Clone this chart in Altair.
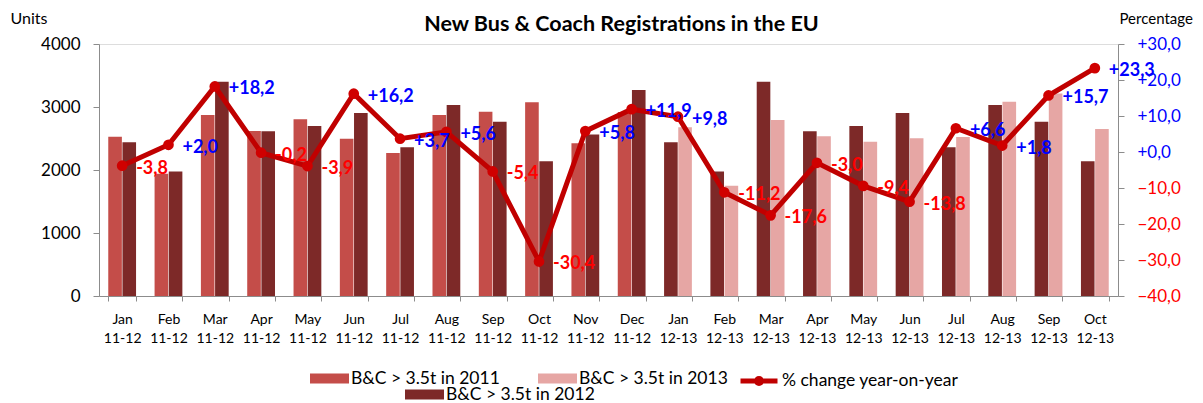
import altair as alt
import pandas as pd

months = ["Jan", "Feb", "Mar", "Apr", "May", "Jun", "Jul", "Aug", "Sep", "Oct", "Nov", "Dec"]
units_2011 = [2529, 1940, 2873, 2620, 2804, 2497, 2270, 2873, 2926, 3075, 2423, 2920]
units_2012 = [2440, 1975, 3400, 2615, 2700, 2905, 2360, 3032, 2767, 2140, 2565, 3268]
units_2013 = [2680, 1750, 2795, 2535, 2450, 2503, 2525, 3085, 3215, 2650]
pct_change = [-3.8, 2.0, 18.2, -0.2, -3.9, 16.2, 3.7, 5.6, -5.4, -30.4, 5.8, 11.9,
              9.8, -11.2, -17.6, -3.0, -9.4, -13.8, 6.6, 1.8, 15.7, 23.3]

s2011 = "B&C > 3.5t in 2011"
s2012 = "B&C > 3.5t in 2012"
s2013 = "B&C > 3.5t in 2013"
line_name = "% change year-on-year"

cats = [f"{m} 11-12" for m in months] + [f"{m} 12-13" for m in months[:10]]

rows = []
for i, m in enumerate(months):
    c = f"{m} 11-12"
    rows.append({"cat": c, "slot": 0, "series": s2011, "units": units_2011[i]})
    rows.append({"cat": c, "slot": 1, "series": s2012, "units": units_2012[i]})
for i, m in enumerate(months[:10]):
    c = f"{m} 12-13"
    rows.append({"cat": c, "slot": 0, "series": s2012, "units": units_2012[i]})
    rows.append({"cat": c, "slot": 1, "series": s2013, "units": units_2013[i]})
bar_df = pd.DataFrame(rows)
bar_a = bar_df[bar_df["series"] != s2012]
bar_b = bar_df[bar_df["series"] == s2012]


def fmt(v):
    return f"{v:+.1f}".replace(".", ",")


pct_df = pd.DataFrame({
    "cat": cats,
    "pct": pct_change,
    "label": [fmt(v) for v in pct_change],
    "name": [line_name] * len(cats),
})

FONT = "Lato"
GRAY = "#8c8c8c"
C2011, C2012, C2013 = "#C44D49", "#7D2928", "#E6A6A4"
RECT = "M-1,-0.26H1V0.26H-1Z"

x_axis = alt.Axis(
    title=None, labelExpr="datum.value ? split(datum.value, ' ') : ''", labelAngle=0,
    tickBand="extent", domainColor=GRAY, tickColor=GRAY, labelFontSize=14, labelLineHeight=19,
    labelPadding=11, tickSize=5, labelColor="black", labelFont=FONT,
)
x_enc = alt.X("cat:N", sort=cats, scale=alt.Scale(paddingInner=0.4, paddingOuter=0.2), axis=x_axis)
xo_enc = alt.XOffset("slot:O", scale=alt.Scale(paddingInner=0.04))

y_units = alt.Y("units:Q", scale=alt.Scale(domain=[0, 4000]),
                axis=alt.Axis(values=[0, 1000, 2000, 3000, 4000], format="d", grid=False,
                              title="Units", titleAngle=0, titleX=-89, titleY=-26,
                              titleAlign="left", titleBaseline="middle", titleFontWeight="normal",
                              titleFontSize=16, titleFont=FONT, labelFont=FONT, labelFontSize=17,
                              labelColor="black", domainColor=GRAY, tickColor=GRAY, tickSize=6,
                              labelPadding=13))

legend_common = dict(title=None, orient="none", symbolType=RECT, symbolSize=1521,
                     symbolStrokeWidth=0, labelFont=FONT, labelFontSize=17.5,
                     labelColor="black", labelOffset=2, labelLimit=400)

bars_a = alt.Chart(bar_a).mark_bar().encode(
    x=x_enc, xOffset=xo_enc, y=y_units,
    color=alt.Color("series:N", sort=[s2011, s2013],
                    scale=alt.Scale(domain=[s2011, s2013], range=[C2011, C2013]),
                    legend=alt.Legend(direction="horizontal", legendX=211, legendY=315,
                                      columnPadding=38, **legend_common)),
)

bars_b = alt.Chart(bar_b).mark_bar().encode(
    x=x_enc, xOffset=xo_enc, y=y_units,
    fill=alt.Fill("series:N", scale=alt.Scale(domain=[s2012], range=[C2012]),
                  legend=alt.Legend(legendX=306, legendY=331, **legend_common)),
)

y_pct = alt.Y("pct:Q", scale=alt.Scale(domain=[-40, 30]),
              axis=alt.Axis(orient="right", values=[-40, -30, -20, -10, 0, 10, 20, 30], grid=False,
                            title="Percentage", titleAngle=0, titleX=1, titleY=-26,
                            titleAlign="left", titleBaseline="middle", titleFontWeight="normal",
                            titleFontSize=15, titleFont=FONT, labelFont=FONT, labelFontSize=17,
                            labelOverlap=False,
                            labelExpr="(datum.value >= 0 ? '+' : '') + replace(format(datum.value, '.1f'), '.', ',')",
                            labelColor={"condition": {"test": "datum.value < 0", "value": "#FF0000"},
                                        "value": "#0000FF"},
                            domainColor=GRAY, tickColor=GRAY, tickSize=6, labelPadding=13))

x_plain = alt.X("cat:N", sort=cats)

line = alt.Chart(pct_df).mark_line(strokeWidth=5).encode(
    x=x_plain, y=y_pct,
    stroke=alt.Stroke("name:N", scale=alt.Scale(range=["#C00000"]),
                      legend=alt.Legend(title=None, orient="none", legendX=639, legendY=316,
                                        symbolType="M-1,0H1M0.14,0A0.14,0.14 0 1,1 -0.14,0A0.14,0.14 0 1,1 0.14,0",
                                        symbolSize=1369, symbolStrokeWidth=5, labelFont=FONT,
                                        labelFontSize=17.5, labelColor="black", labelOffset=2,
                                        labelLimit=400)),
)

points = alt.Chart(pct_df).mark_circle(size=115, opacity=1, color="#D00000").encode(
    x=x_plain, y=y_pct)

labels = alt.Chart(pct_df).mark_text(align="left", baseline="middle", dx=14, dy=3,
                                     fontWeight="bold", fontSize=18, font=FONT).encode(
    x=x_plain, y=y_pct, text="label:N",
    color=alt.condition("datum.pct >= 0", alt.value("#0000FF"), alt.value("#FF0000")),
)

chart = alt.layer(alt.layer(bars_a, bars_b), alt.layer(line, points, labels)).resolve_scale(
    y="independent"
).properties(
    width=1019, height=252,
    autosize=alt.AutoSizeParams(type="none"),
    padding={"left": 91, "top": 36, "right": 76, "bottom": 112},
    title=alt.TitleParams("New Bus & Coach Registrations in the EU", font=FONT, fontSize=21.5,
                          fontWeight="bold", anchor="middle", dx=13, dy=29, frame="group",
                          color="black"),
).configure_view(stroke=None).configure(background="white")

chart.save("out.html", embed_options={"renderer": "svg", "actions": False})
